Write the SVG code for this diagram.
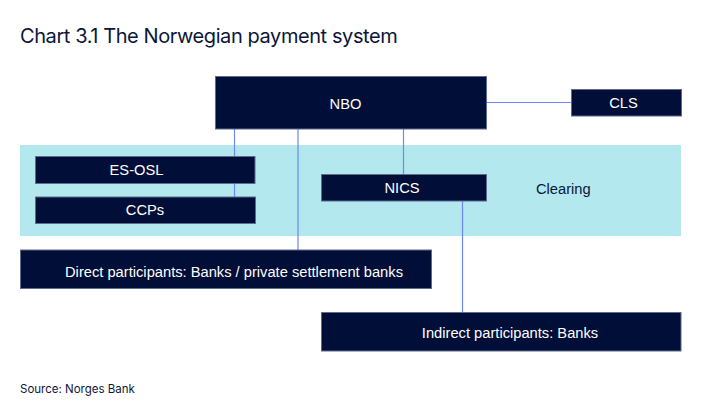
<svg xmlns="http://www.w3.org/2000/svg" width="722" height="410" viewBox="0 0 722 410">
<style>
.box{fill:#010e38;stroke:#5f6b8c;stroke-width:1}
.lbl{fill:#ffffff;font-family:"Liberation Sans",Arial,sans-serif;font-size:14.7px}
.ln{stroke:#6f86f5;stroke-width:1.2;fill:none}
.ttl{fill:#0b1638;font-family:Inter,"Noto Sans",sans-serif}
</style>
<rect width="722" height="410" fill="#ffffff"/>
<text class="ttl" x="20" y="43" font-size="20" letter-spacing="-0.42">Chart 3.1 The Norwegian payment system</text>
<g id="clearing-band">
<rect x="20" y="145" width="661" height="91" fill="#b3e8ee"/>
<text x="536" y="194" fill="#0b1638" font-family="Liberation Sans,Arial,sans-serif" font-size="14.7">Clearing</text>
</g>
<g id="connectors">
<line class="ln" x1="487" y1="102.5" x2="571" y2="102.5"/>
<line class="ln" x1="234.5" y1="129" x2="234.5" y2="197"/>
<line class="ln" x1="298" y1="129" x2="298" y2="250"/>
<line class="ln" x1="403.5" y1="129" x2="403.5" y2="174"/>
<line class="ln" x1="462.5" y1="201" x2="462.5" y2="312"/>
</g>
<g id="nbo"><rect class="box" x="215.5" y="76.5" width="271" height="52.5"/><text class="lbl" x="345.5" y="109" text-anchor="middle">NBO</text></g>
<g id="cls"><rect class="box" x="571.5" y="89.5" width="110" height="26.5"/><text class="lbl" x="623.5" y="108" text-anchor="middle">CLS</text></g>
<g id="es-osl"><rect class="box" x="35.5" y="156.5" width="219.5" height="27"/><text class="lbl" x="136.5" y="175" text-anchor="middle">ES-OSL</text></g>
<g id="ccps"><rect class="box" x="35.5" y="197" width="220" height="26.5"/><text class="lbl" x="145" y="215" text-anchor="middle">CCPs</text></g>
<g id="nics"><rect class="box" x="321.5" y="174.5" width="165" height="26.5"/><text class="lbl" x="402" y="193" text-anchor="middle">NICS</text></g>
<g id="direct"><rect class="box" x="20.5" y="250" width="411" height="38.5"/><text class="lbl" x="234" y="277" text-anchor="middle">Direct participants: Banks / private settlement banks</text></g>
<g id="indirect"><rect class="box" x="321.5" y="312.5" width="359.5" height="38.5"/><text class="lbl" x="510" y="338" text-anchor="middle">Indirect participants: Banks</text></g>
<text class="ttl" x="20" y="393" font-size="11.5">Source: Norges Bank</text>
</svg>
